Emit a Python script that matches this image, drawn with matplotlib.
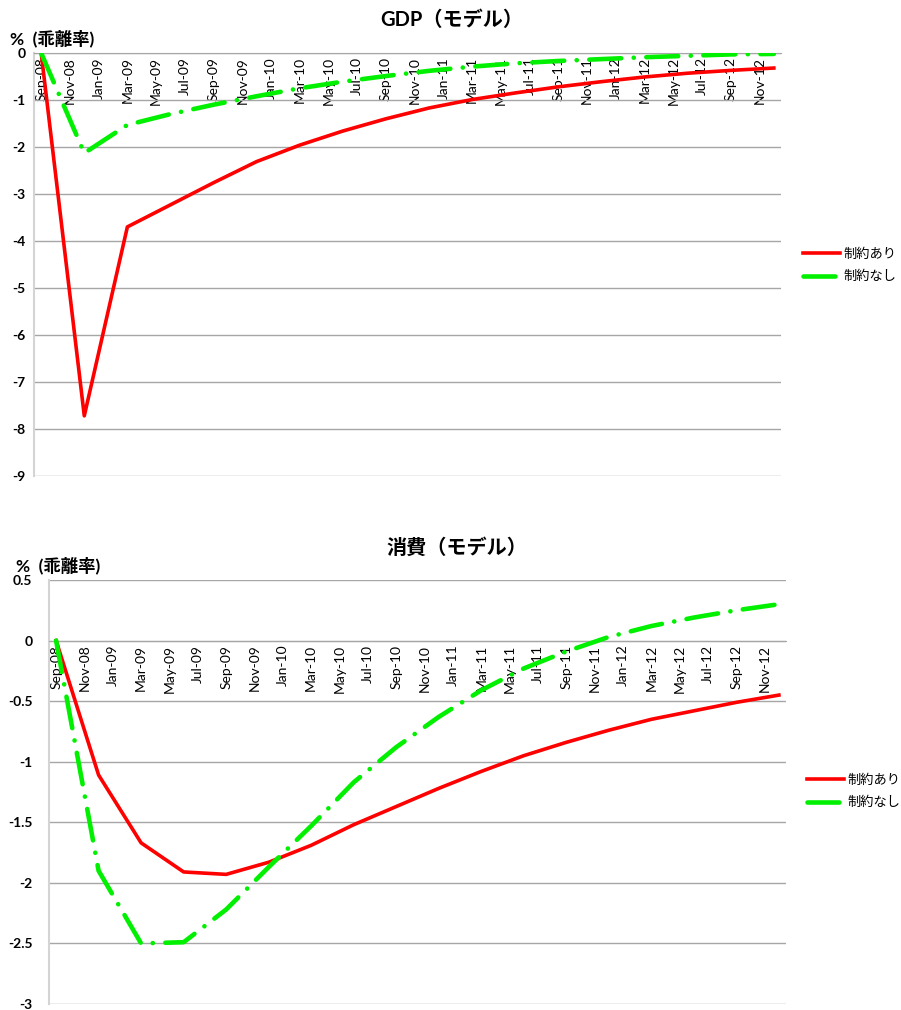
import matplotlib
matplotlib.use("Agg")
import matplotlib.pyplot as plt
import pandas as pd

plt.rcParams["font.family"] = ["Lato", "Noto Sans CJK JP", "DejaVu Sans"]
plt.rcParams["axes.unicode_minus"] = False
plt.rcParams["lines.scale_dashes"] = False

# Quarterly observations, Sep-2008 .. Dec-2012
months = pd.period_range("2008-09", "2012-12", freq="M")
quarters = months[::3]

gdp_constrained = [0.0, -7.72, -3.70, -3.23, -2.76, -2.31, -1.96, -1.66, -1.40,
                   -1.17, -0.99, -0.85, -0.72, -0.61, -0.51, -0.43, -0.37, -0.32]
gdp_unconstrained = [0.0, -2.13, -1.53, -1.30, -1.10, -0.92, -0.75, -0.61, -0.49,
                     -0.38, -0.29, -0.22, -0.17, -0.13, -0.09, -0.06, -0.03, -0.02]

cons_constrained = [0.0, -1.11, -1.67, -1.91, -1.93, -1.83, -1.69, -1.52, -1.37,
                    -1.22, -1.08, -0.95, -0.84, -0.74, -0.65, -0.58, -0.51, -0.45]
cons_unconstrained = [0.0, -1.90, -2.50, -2.49, -2.22, -1.87, -1.53, -1.17, -0.88,
                      -0.63, -0.41, -0.23, -0.09, 0.03, 0.12, 0.19, 0.25, 0.30]

series_names = ["制約あり", "制約なし"]
y_label = "%  (乖離率)"

# bi-monthly tick labels Sep-08 .. Nov-12
tick_months = months[:-1][::2]
tick_labels = [p.strftime("%b-%y") for p in tick_months]

RED = "#ff0000"
GREEN = "#00f000"
GRID = "#a6a6a6"

start = months[0]
x_q = [(q - start).n for q in quarters]
x_t = [(p - start).n for p in tick_months]

fig = plt.figure(figsize=(9.01, 10.10), dpi=100)


def draw_panel(rect, title, red_vals, green_vals, ylim, yticks, ylabels,
               title_xy, ylab_xy, leg_xy, ypad):
    ax = fig.add_axes(rect)
    ax.spines["bottom"].set_position(("data", 0))
    ax.spines["bottom"].set_color(GRID)
    ax.spines["top"].set_visible(False)
    ax.spines["right"].set_visible(False)
    ax.spines["left"].set_color("#d4d4d4")
    ax.spines["left"].set_linewidth(1.5)
    ax.plot(x_q, red_vals, color=RED, lw=2.6, label=series_names[0],
            solid_joinstyle="round", zorder=3)
    ax.plot(x_q, green_vals, color=GREEN, lw=3.3, label=series_names[1],
            dashes=(23, 9, 0.1, 9), dash_capstyle="round", zorder=4)
    ax.set_xlim(x_q[0] - 0.5, x_q[-1] + 0.5)
    ax.set_ylim(*ylim)
    ax.set_yticks(yticks)
    ax.set_yticklabels(ylabels, fontsize=10, fontweight="bold")
    ax.yaxis.grid(True, color=GRID, lw=1.0)
    ax.set_axisbelow(True)
    ax.set_xticks(x_t)
    ax.set_xticklabels(tick_labels, fontsize=10)
    for lab in ax.get_xticklabels():
        lab.set_rotation(90)
        lab.set_verticalalignment("top")
        lab.set_horizontalalignment("center")
    ax.tick_params(axis="x", length=0, pad=3)
    ax.tick_params(axis="y", length=0, pad=ypad)
    fig.text(title_xy[0], title_xy[1], title, ha="center", va="center",
             fontsize=14.5, fontweight="bold")
    fig.text(ylab_xy[0], ylab_xy[1], y_label, ha="left", va="center",
             fontsize=12.5, fontweight="bold")
    fig.legend(handles=ax.get_lines(), loc="center left",
               bbox_to_anchor=leg_xy, frameon=False, fontsize=9.5,
               handlelength=2.8, handletextpad=0.3, labelspacing=0.75,
               borderpad=0, borderaxespad=0)
    return ax


W, H = 901, 1010


def fx(px):
    return px / W


def fy(py):
    return 1 - py / H


draw_panel([fx(34), fy(476), fx(781) - fx(34), fy(53) - fy(476)],
           "GDP（モデル）", gdp_constrained, gdp_unconstrained,
           (-9, 0), list(range(0, -10, -1)),
           [str(v) for v in range(0, -10, -1)],
           (fx(452), fy(20)), (fx(10), fy(38)), (fx(803), fy(265)), 6)

yt2 = [0.5, 0, -0.5, -1, -1.5, -2, -2.5, -3]
draw_panel([fx(49), fy(1004), fx(786) - fx(49), fy(580) - fy(1004)],
           "消費（モデル）", cons_constrained, cons_unconstrained,
           (-3, 0.5), yt2, [f"{v:g}" for v in yt2],
           (fx(457), fy(548)), (fx(16), fy(565)), (fx(807), fy(791)), 12)

fig.savefig("out.png", dpi=100)
